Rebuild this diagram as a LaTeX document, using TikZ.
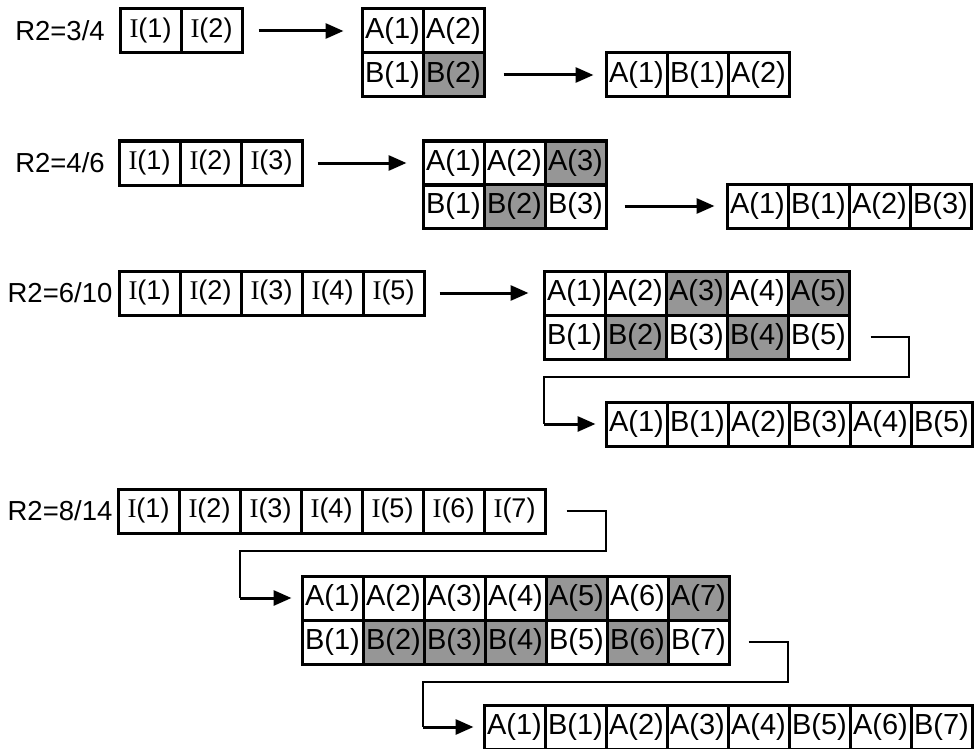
\documentclass[tikz,border=0pt]{standalone}
\usepackage{fontspec}
\setmainfont{Liberation Sans}
\newfontfamily\serI{Liberation Serif}
\usetikzlibrary{arrows.meta}
\definecolor{shade}{RGB}{150,150,150}
\begin{document}
\begin{tikzpicture}[x=1pt,y=-1pt,
  cell/.style={draw,line width=3pt,minimum width=61pt,minimum height=44pt,inner sep=0pt,font=\fontsize{29}{30}\selectfont},
  icell/.style={cell,font=\fontsize{27}{28}\selectfont},
  dark/.style={fill=shade},
  lab/.style={font=\fontsize{27.5}{29}\selectfont,inner sep=0pt},
  arr/.style={line width=3pt,-{Triangle[length=18pt,width=15pt]}},
  elb/.style={line width=1.5pt}]
\useasboundingbox (0,0) rectangle (974,749);
% ---------- row 1 ----------
\node[lab] (l1) at (60,31) {R2=3/4};
\foreach \k in {1,2}
  \node[icell] (r1i\k) at ({120+61*\k-30.5},31) {{\serI I}(\k)};
\foreach \k/\s in {1/,2/}
  \node[cell,\s] (r1a\k) at ({362+61*\k-30.5},31) {A(\k)};
\foreach \k/\s in {1/,2/dark}
  \node[cell,\s] (r1b\k) at ({362+61*\k-30.5},75) {B(\k)};
\foreach \k/\t in {1/{A(1)},2/{B(1)},3/{A(2)}}
  \node[cell] (r1o\k) at ({606+61*\k-30.5},75) {\t};
\draw[arr,shorten <=15pt,shorten >=17pt] (r1i2.east) -- (r1a1.west);
\draw[arr,shorten <=18pt,shorten >=11pt] (r1b2.east) -- (r1o1.west);
% ---------- row 2 ----------
\node[lab] (l2) at (60,163) {R2=4/6};
\foreach \k in {1,2,3}
  \node[icell] (r2i\k) at ({119+61*\k-30.5},163) {{\serI I}(\k)};
\foreach \k/\s in {1/,2/,3/dark}
  \node[cell,\s] (r2a\k) at ({423+61*\k-30.5},163) {A(\k)};
\foreach \k/\s in {1/,2/dark,3/}
  \node[cell,\s] (r2b\k) at ({423+61*\k-30.5},206) {B(\k)};
\foreach \k/\t in {1/{A(1)},2/{B(1)},3/{A(2)},4/{B(3)}}
  \node[cell] (r2o\k) at ({727+61*\k-30.5},206) {\t};
\draw[arr,shorten <=14pt,shorten >=15pt] (r2i3.east) -- (r2a1.west);
\draw[arr,shorten <=17pt,shorten >=11pt] (r2b3.east) -- (r2o1.west);
% ---------- row 3 ----------
\node[lab] (l3) at (60,293) {R2=6/10};
\foreach \k in {1,...,5}
  \node[icell] (r3i\k) at ({119+61*\k-30.5},293) {{\serI I}(\k)};
\foreach \k/\s in {1/,2/,3/dark,4/,5/dark}
  \node[cell,\s] (r3a\k) at ({544+61*\k-30.5},293) {A(\k)};
\foreach \k/\s in {1/,2/dark,3/,4/dark,5/}
  \node[cell,\s] (r3b\k) at ({544+61*\k-30.5},337) {B(\k)};
\foreach \k/\t in {1/{A(1)},2/{B(1)},3/{A(2)},4/{B(3)},5/{A(4)},6/{B(5)}}
  \node[cell] (r3o\k) at ({606+61*\k-30.5},424) {\t};
\draw[arr,shorten <=14pt,shorten >=14pt] (r3i5.east) -- (r3a1.west);
\coordinate (r3t) at (909,377);
\coordinate (r3k) at (544,424);
\draw[elb] ([xshift=20pt]r3b5.east) -| (r3t) -| (r3k);
\draw[arr,shorten >=9pt] (r3k) -- (r3o1.west);
% ---------- row 4 ----------
\node[lab] (l4) at (60,511) {R2=8/14};
\foreach \k in {1,...,7}
  \node[icell] (r4i\k) at ({118+61*\k-30.5},511) {{\serI I}(\k)};
\foreach \k/\s in {1/,2/,3/,4/,5/dark,6/,7/dark}
  \node[cell,\s] (r4a\k) at ({302+61*\k-30.5},598) {A(\k)};
\foreach \k/\s in {1/,2/dark,3/dark,4/dark,5/,6/dark,7/}
  \node[cell,\s] (r4b\k) at ({302+61*\k-30.5},642) {B(\k)};
\foreach \k/\t in {1/{A(1)},2/{B(1)},3/{A(2)},4/{A(3)},5/{A(4)},6/{B(5)},7/{A(6)},8/{B(7)}}
  \node[cell] (r4o\k) at ({484+61*\k-30.5},727) {\t};
\coordinate (r4t) at (606,551);
\coordinate (r4k) at (240,598);
\draw[elb] ([xshift=20pt]r4i7.east) -| (r4t) -| (r4k);
\draw[arr,shorten >=9pt] (r4k) -- (r4a1.west);
\coordinate (r4v) at (788,682);
\coordinate (r4w) at (423,727);
\draw[elb] ([xshift=18pt]r4b7.east) -| (r4v) -| (r4w);
\draw[arr,shorten >=9pt] (r4w) -- (r4o1.west);
\end{tikzpicture}
\end{document}
